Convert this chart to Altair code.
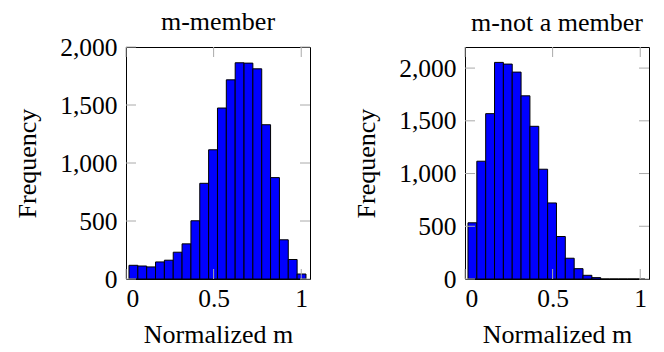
import altair as alt
import pandas as pd

# ---- data ----
bin_start = [0.017, 0.0675, 0.118, 0.1685, 0.219, 0.2695, 0.32, 0.3705, 0.421, 0.4715,
             0.522, 0.5725, 0.623, 0.6735, 0.724, 0.7745, 0.825, 0.8755, 0.926, 0.9765]
bin_end = [0.0675, 0.118, 0.1685, 0.219, 0.2695, 0.32, 0.3705, 0.421, 0.4715, 0.522,
           0.5725, 0.623, 0.6735, 0.724, 0.7745, 0.825, 0.8755, 0.926, 0.9765, 1.027]
member_counts = [118, 112, 104, 147, 162, 231, 303, 502, 825, 1114,
                 1474, 1717, 1864, 1861, 1812, 1330, 874, 338, 168, 43]
nonmember_counts = [533, 1117, 1568, 2054, 2038, 1962, 1737, 1448, 1041, 721,
                    403, 197, 98, 35, 13, 0, 0, 0, 0, 0]
y_ticks = [0, 500, 1000, 1500, 2000]
x_ticks = [0, 0.5, 1]

FONT = "Liberation Serif, Times New Roman, serif"
W, H = 184, 232
TL = 10  # inner tick length


def panel(counts, title, ymax, title_offset):
    df = pd.DataFrame({"start": bin_start, "end": bin_end, "count": counts})
    xs = alt.Scale(domain=[0, 1.05], nice=False, zero=False)
    ys = alt.Scale(domain=[0, ymax], nice=False)
    xa = alt.Axis(values=x_ticks, format="~g", title="Normalized m")
    ya = alt.Axis(values=y_ticks, format=",d", title="Frequency")
    bars = alt.Chart(df).mark_rect(fill="#0000ff", stroke="black", strokeWidth=1).encode(
        x=alt.X("start:Q", scale=xs, axis=xa),
        x2="end:Q",
        y=alt.Y("count:Q", scale=ys, axis=ya),
        y2=alt.datum(0),
    )
    yt = pd.DataFrame({"count": y_ticks})
    xt = pd.DataFrame({"start": x_ticks})
    tick_style = dict(color="#aaaaaa", strokeWidth=1)
    yl = alt.Chart(yt).mark_rule(**tick_style).encode(
        y=alt.Y("count:Q", scale=ys, axis=ya), x=alt.value(0), x2=alt.value(TL))
    yr = alt.Chart(yt).mark_rule(**tick_style).encode(
        y=alt.Y("count:Q", scale=ys, axis=ya), x=alt.value(W - TL), x2=alt.value(W))
    xb = alt.Chart(xt).mark_rule(**tick_style).encode(
        x=alt.X("start:Q", scale=xs, axis=xa), y=alt.value(H - TL), y2=alt.value(H))
    xtp = alt.Chart(xt).mark_rule(**tick_style).encode(
        x=alt.X("start:Q", scale=xs, axis=xa), y=alt.value(0), y2=alt.value(TL))
    return alt.layer(bars, yl, yr, xb, xtp).properties(
        width=W, height=H,
        title=alt.TitleParams(title, font=FONT, fontSize=26, fontWeight="normal",
                              anchor="middle", offset=title_offset),
    )


left = panel(member_counts, "m-member", 2000, 0)
right = panel(nonmember_counts, "m-not a member", 2200, 11)

chart = alt.hconcat(left, right, spacing=42).properties(
    padding={"left": 6, "top": 0, "right": 0, "bottom": 0}
).configure_view(stroke="black", strokeWidth=1).configure_axis(
    domain=False, ticks=False, tickSize=0, grid=False,
    labelFont=FONT, labelFontSize=25.5, labelColor="black",
    titleFont=FONT, titleFontSize=26, titleFontWeight="normal", titleColor="black",
).configure_axisX(labelPadding=7, titlePadding=10).configure_axisY(
    labelPadding=9, titlePadding=19)

chart.save("out.html", embed_options={"renderer": "svg", "actions": False})
